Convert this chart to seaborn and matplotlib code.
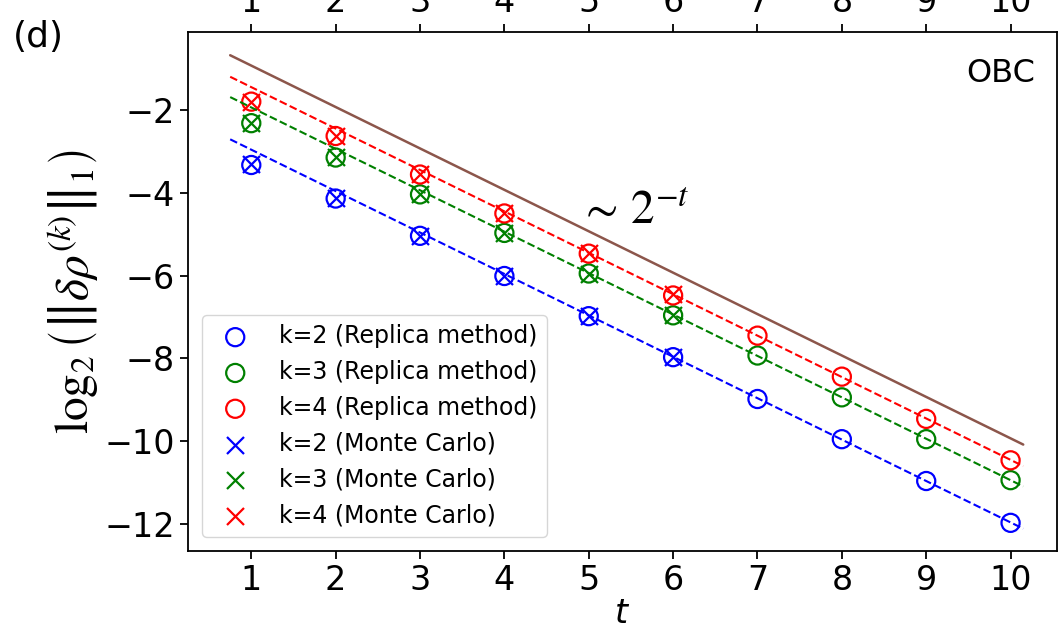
import numpy as np
import seaborn as sns
import matplotlib.pyplot as plt

# ==============================================================================
# DATA
# ==============================================================================
t_vals = [1, 2, 3, 4, 5, 6, 7, 8, 9, 10]
t_mc = [1, 2, 3, 4, 5, 6]

replica_k2 = [-3.33, -4.14, -5.04, -6.01, -6.98, -7.97, -8.98, -9.95, -10.96, -11.97]
replica_k3 = [-2.32, -3.15, -4.04, -4.97, -5.95, -6.96, -7.93, -8.94, -9.95, -10.94]
replica_k4 = [-1.80, -2.63, -3.56, -4.50, -5.47, -6.48, -7.45, -8.44, -9.46, -10.46]

mc_k2 = [-3.31, -4.13, -5.04, -6.00, -6.97, -7.97]
mc_k3 = [-2.32, -3.13, -4.03, -4.98, -5.95, -6.94]
mc_k4 = [-1.81, -2.63, -3.55, -4.49, -5.46, -6.45]

# linear fits log2 = slope * t + intercept
fit_t_range = [0.75, 10.15]
fit_slope = -1.0
fit_intercepts = {"k2": -1.96, "k3": -0.94, "k4": -0.45}
guide_intercept = 0.07  # the ~2^{-t} guide

colors = {"k2": "blue", "k3": "green", "k4": "red"}
x_ticks = [1, 2, 3, 4, 5, 6, 7, 8, 9, 10]
y_ticks = [-12, -10, -8, -6, -4, -2]

# ==============================================================================
# PLOT
# ==============================================================================
sns.set_style("ticks", {"axes.edgecolor": "black", "xtick.color": "black",
                        "ytick.color": "black", "text.color": "black",
                        "axes.labelcolor": "black"})
plt.rcParams['font.family'] = ['DejaVu Sans']
plt.rcParams['mathtext.fontset'] = 'dejavusans'

fig = plt.figure(figsize=(10.64, 6.41), dpi=100)
ax = fig.add_axes([0.1767, 0.1404, 0.8167, 0.8096])

t_fit = np.linspace(fit_t_range[0], fit_t_range[1], 50)

# guide line
sns.lineplot(x=t_fit, y=fit_slope * t_fit + guide_intercept, color="tab:brown",
             linewidth=1.8, ax=ax)

for key in ["k2", "k3", "k4"]:
    sns.lineplot(x=t_fit, y=fit_slope * t_fit + fit_intercepts[key],
                 color=colors[key], linestyle="--", linewidth=1.5, ax=ax)

replica = {"k2": replica_k2, "k3": replica_k3, "k4": replica_k4}
mc = {"k2": mc_k2, "k3": mc_k3, "k4": mc_k4}

for key in ["k2", "k3", "k4"]:
    sns.scatterplot(x=t_vals, y=replica[key], marker="o", s=170,
                    facecolors="none", edgecolor=colors[key], linewidth=1.6,
                    label=f"k={key[1]} (Replica method)", ax=ax)
for key in ["k2", "k3", "k4"]:
    sns.scatterplot(x=t_mc, y=mc[key], marker="x", s=150, color=colors[key],
                    linewidth=1.6, label=f"k={key[1]} (Monte Carlo)", ax=ax)

ax.set_xlim(0.25, 10.55)
ax.set_ylim(-12.65, -0.12)
ax.set_xticks(x_ticks)
ax.set_yticks(y_ticks)
ax.tick_params(axis="both", labelsize=24, length=6, width=1.3, direction="out")
ax.tick_params(axis="x", top=True, labeltop=True)
for sp in ax.spines.values():
    sp.set_linewidth(1.3)

ax.set_xlabel("$t$", fontsize=24, labelpad=0)
ax.set_ylabel(r"$\log_2\left(\left\Vert\delta\rho^{(k)}\right\Vert_1\right)$",
              fontsize=34, labelpad=2, math_fontfamily="stix")

ax.text(0.975, 0.95, "OBC", transform=ax.transAxes, ha="right", va="top",
        fontsize=23)
ax.text(4.88, -4.45, r"$\sim\,2^{-t}$", fontsize=34, ha="left", va="center",
        math_fontfamily="stix")
fig.text(0.012, 0.915, "(d)", fontsize=26, ha="left", va="bottom")

leg = ax.legend(loc="lower left", fontsize=17, frameon=True, handletextpad=0.85,
                labelspacing=0.5, borderaxespad=0.6)
leg.get_frame().set_edgecolor("#cccccc")

fig.savefig("out.png", dpi=100)
